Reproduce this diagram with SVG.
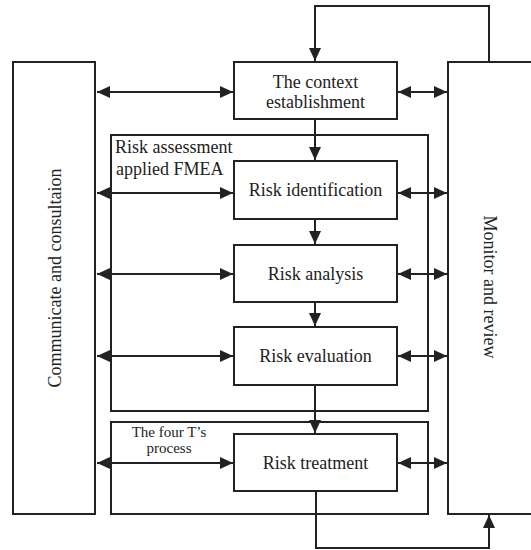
<svg xmlns="http://www.w3.org/2000/svg" width="531" height="550" viewBox="0 0 531 550">
<style>
.box{fill:#fff;stroke:#222;stroke-width:2}
.frame{fill:none;stroke:#222;stroke-width:2}
.ln{fill:none;stroke:#222;stroke-width:2}
.t{font-family:"Liberation Serif","Times New Roman",serif;font-size:18px;fill:#222;text-anchor:middle}
.ts{font-family:"Liberation Serif","Times New Roman",serif;font-size:15px;fill:#222;text-anchor:middle}
.tl{font-family:"Liberation Serif","Times New Roman",serif;font-size:18px;fill:#222}
</style>
<defs>
<marker id="ah" markerUnits="userSpaceOnUse" markerWidth="14" markerHeight="12" refX="13" refY="6" orient="auto-start-reverse">
<path d="M0,0 L13,6 L0,12 z" fill="#222"/>
</marker>
</defs>
<rect width="531" height="550" fill="#fff"/>
<g id="frames">
<rect class="frame" x="111" y="135" width="317" height="276"/>
<rect class="frame" x="111" y="422" width="317" height="92"/>
<text class="tl" x="115" y="153">Risk assessment</text>
<text class="tl" x="116" y="175">applied FMEA</text>
<text class="ts" x="169" y="437">The four T’s</text>
<text class="ts" x="169" y="453">process</text>
</g>
<g id="communicate">
<rect class="box" x="13" y="62" width="82" height="452"/>
<text class="t" transform="translate(61,278) rotate(-90)">Communicate and consultaion</text>
</g>
<g id="monitor">
<rect class="box" x="448" y="62" width="100" height="452"/>
<text class="t" transform="translate(484,287) rotate(90)">Monitor and review</text>
</g>
<g id="context">
<rect class="box" x="234" y="62" width="163" height="57"/>
<text class="t" x="315.5" y="88">The context</text>
<text class="t" x="315.5" y="108">establishment</text>
</g>
<g id="identification">
<rect class="box" x="234" y="161" width="163" height="58"/>
<text class="t" x="315.5" y="196">Risk identification</text>
</g>
<g id="analysis">
<rect class="box" x="234" y="245" width="163" height="57"/>
<text class="t" x="315.5" y="280">Risk analysis</text>
</g>
<g id="evaluation">
<rect class="box" x="234" y="327" width="163" height="58"/>
<text class="t" x="315.5" y="362">Risk evaluation</text>
</g>
<g id="treatment">
<rect class="box" x="234" y="434" width="163" height="57"/>
<text class="t" x="315.5" y="469">Risk treatment</text>
</g>
<g id="connectors">
<polyline class="ln" points="489,62 489,6 315,6 315,61" marker-end="url(#ah)"/>
<line class="ln" x1="315" y1="119" x2="315" y2="160" marker-end="url(#ah)"/>
<line class="ln" x1="315" y1="219" x2="315" y2="244" marker-end="url(#ah)"/>
<line class="ln" x1="315" y1="302" x2="315" y2="326" marker-end="url(#ah)"/>
<line class="ln" x1="315" y1="385" x2="315" y2="433" marker-end="url(#ah)"/>
<polyline class="ln" points="316,491 316,548 489,548 489,515" marker-end="url(#ah)"/>
<line class="ln" x1="97" y1="92" x2="233" y2="92" marker-start="url(#ah)" marker-end="url(#ah)"/>
<line class="ln" x1="398" y1="92" x2="447" y2="92" marker-start="url(#ah)" marker-end="url(#ah)"/>
<line class="ln" x1="97" y1="193" x2="233" y2="193" marker-start="url(#ah)" marker-end="url(#ah)"/>
<line class="ln" x1="398" y1="193" x2="447" y2="193" marker-start="url(#ah)" marker-end="url(#ah)"/>
<line class="ln" x1="97" y1="274" x2="233" y2="274" marker-start="url(#ah)" marker-end="url(#ah)"/>
<line class="ln" x1="398" y1="274" x2="447" y2="274" marker-start="url(#ah)" marker-end="url(#ah)"/>
<line class="ln" x1="97" y1="356" x2="233" y2="356" marker-start="url(#ah)" marker-end="url(#ah)"/>
<line class="ln" x1="398" y1="356" x2="447" y2="356" marker-start="url(#ah)" marker-end="url(#ah)"/>
<line class="ln" x1="97" y1="463" x2="233" y2="463" marker-start="url(#ah)" marker-end="url(#ah)"/>
<line class="ln" x1="398" y1="463" x2="447" y2="463" marker-start="url(#ah)" marker-end="url(#ah)"/>
</g>
</svg>
